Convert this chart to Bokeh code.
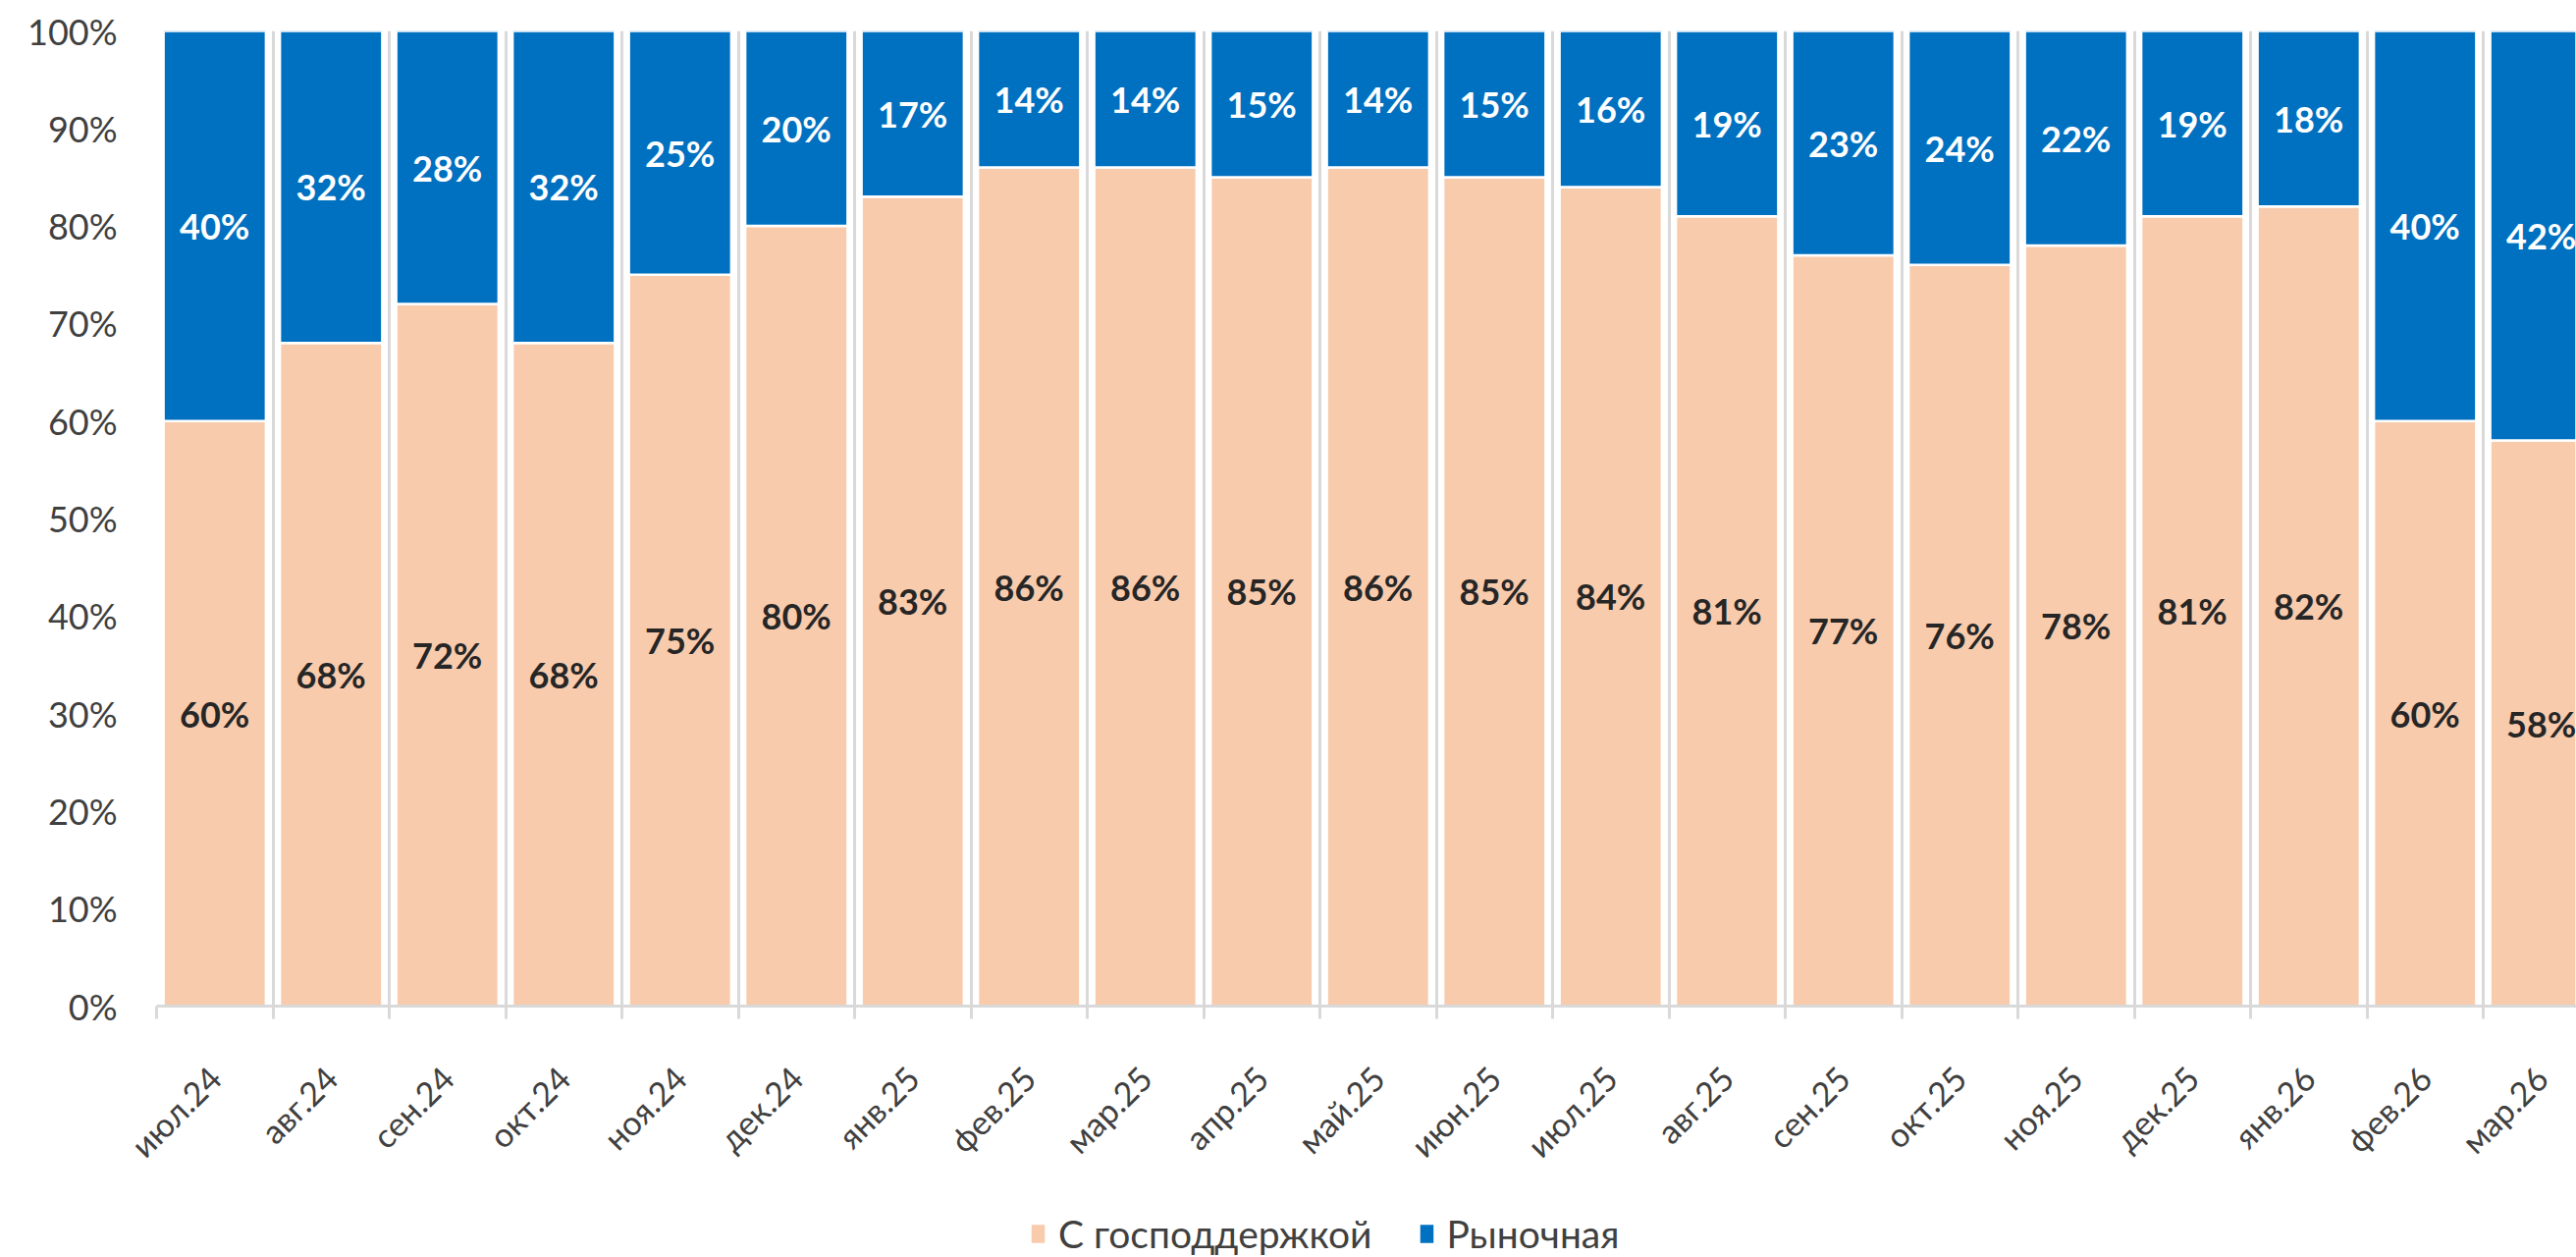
import math
from bokeh.plotting import figure
from bokeh.layouts import column
from bokeh.models import (ColumnDataSource, Range1d, FixedTicker, PrintfTickFormatter,
                          LabelSet, Legend, LegendItem)
from bokeh.core.properties import value
from bokeh.embed import file_html
from bokeh.resources import INLINE

# ---- data ----
months = ["июл.24", "авг.24", "сен.24", "окт.24", "ноя.24", "дек.24", "янв.25",
          "фев.25", "мар.25", "апр.25", "май.25", "июн.25", "июл.25", "авг.25",
          "сен.25", "окт.25", "ноя.25", "дек.25", "янв.26", "фев.26", "мар.26"]
gov = [60, 68, 72, 68, 75, 80, 83, 86, 86, 85, 86, 85, 84, 81, 77, 76, 78, 81, 82, 60, 58]
market = [40, 32, 28, 32, 25, 20, 17, 14, 14, 15, 14, 15, 16, 19, 23, 24, 22, 19, 18, 40, 42]
series_names = ["С господдержкой", "Рыночная"]
y_ticks = [0, 10, 20, 30, 40, 50, 60, 70, 80, 90, 100]

# ---- style ----
FONT = "Lato"
C_GOV = "#F8CBAD"
C_MKT = "#0070C0"
GRID = "#D9D9D9"
TXT = "#404040"

n = len(months)
xc = [i + 0.5 for i in range(n)]
src = ColumnDataSource(dict(
    x=xc, month=months, gov=gov, market=market,
    gov_y=[g / 2 for g in gov],
    mkt_y=[g + m / 2 for g, m in zip(gov, market)],
    gov_txt=[f"{g}%" for g in gov],
    mkt_txt=[f"{m}%" for m in market],
))

W = 2624
H_MAIN, H_LEG = 1232, 48
left, top = 159, 31
bottom = H_MAIN - 1024
frame_w = W - left
cat_px = 118.5

p = figure(width=W, height=H_MAIN, output_backend="svg", toolbar_location=None,
           x_range=Range1d(0, frame_w / cat_px), y_range=Range1d(0, 100),
           min_border_left=left, min_border_right=0, min_border_top=top,
           min_border_bottom=bottom)
p.outline_line_color = None
p.background_fill_color = "white"
p.border_fill_color = "white"

stack_kw = dict(x="x", width=0.88, source=src, color=[C_GOV, C_MKT],
                line_color="white", line_width=2.5)
rs = p.vbar_stack(["gov", "market"], **stack_kw)

# grid at category boundaries
p.xgrid.ticker = FixedTicker(ticks=list(range(0, n + 1)))
p.xgrid.grid_line_color = GRID
p.xgrid.grid_line_width = 3
p.ygrid.grid_line_color = None

# x axis
p.xaxis.ticker = FixedTicker(ticks=xc, minor_ticks=list(range(0, n + 1)))
p.xaxis.major_label_overrides = {x: m for x, m in zip(xc, months)}
p.xaxis.major_label_orientation = math.pi / 4
p.xaxis.major_tick_line_color = None
p.xaxis.major_tick_out = 0
p.xaxis.major_tick_in = 0
p.xaxis.minor_tick_line_color = GRID
p.xaxis.minor_tick_line_width = 3
p.xaxis.minor_tick_out = 13
p.xaxis.minor_tick_in = 0
p.xaxis.axis_line_color = GRID
p.xaxis.axis_line_width = 3
p.xaxis.major_label_standoff = 54
p.xaxis.major_label_text_font = FONT
p.xaxis.major_label_text_font_size = "34px"
p.xaxis.major_label_text_color = TXT

# y axis
p.yaxis.ticker = FixedTicker(ticks=y_ticks)
p.yaxis.formatter = PrintfTickFormatter(format="%d%%")
p.yaxis.axis_line_color = None
p.yaxis.major_tick_line_color = None
p.yaxis.minor_tick_line_color = None
p.yaxis.major_tick_out = 0
p.yaxis.major_tick_in = 0
p.yaxis.major_label_standoff = 40
p.yaxis.major_label_text_font = FONT
p.yaxis.major_label_text_font_size = "36px"
p.yaxis.major_label_text_color = TXT

# data labels
p.add_layout(LabelSet(x="x", y="gov_y", text="gov_txt", source=src,
                      text_align="center", text_baseline="middle",
                      text_font=value(FONT), text_font_size=value("36px"),
                      text_font_style="bold", text_color="#262626"))
p.add_layout(LabelSet(x="x", y="mkt_y", text="mkt_txt", source=src,
                      text_align="center", text_baseline="middle",
                      text_font=value(FONT), text_font_size=value("36px"),
                      text_font_style="bold", text_color="white"))

# ---- legend strip below the chart ----
leg = figure(width=W, height=H_LEG, output_backend="svg", toolbar_location=None,
             x_range=Range1d(-100, -99), y_range=Range1d(0, 100),
             x_axis_location=None, y_axis_location=None,
             min_border_left=0, min_border_right=0, min_border_top=0, min_border_bottom=0)
leg.outline_line_color = None
leg.xgrid.visible = False
leg.ygrid.visible = False
lrs = leg.vbar_stack(["gov", "market"], **stack_kw)

legend = Legend(items=[LegendItem(label=series_names[0], renderers=[lrs[0]]),
                       LegendItem(label=series_names[1], renderers=[lrs[1]])],
                location="center_left", margin=888, orientation="horizontal",
                glyph_width=20, glyph_height=26, label_standoff=11, spacing=45,
                padding=0, border_line_color=None,
                background_fill_alpha=0,
                label_text_font=FONT, label_text_font_size="39px",
                label_text_color=TXT)
leg.add_layout(legend, "center")

layout = column(p, leg, spacing=0)
open("out.html", "w").write(file_html(layout, INLINE))
